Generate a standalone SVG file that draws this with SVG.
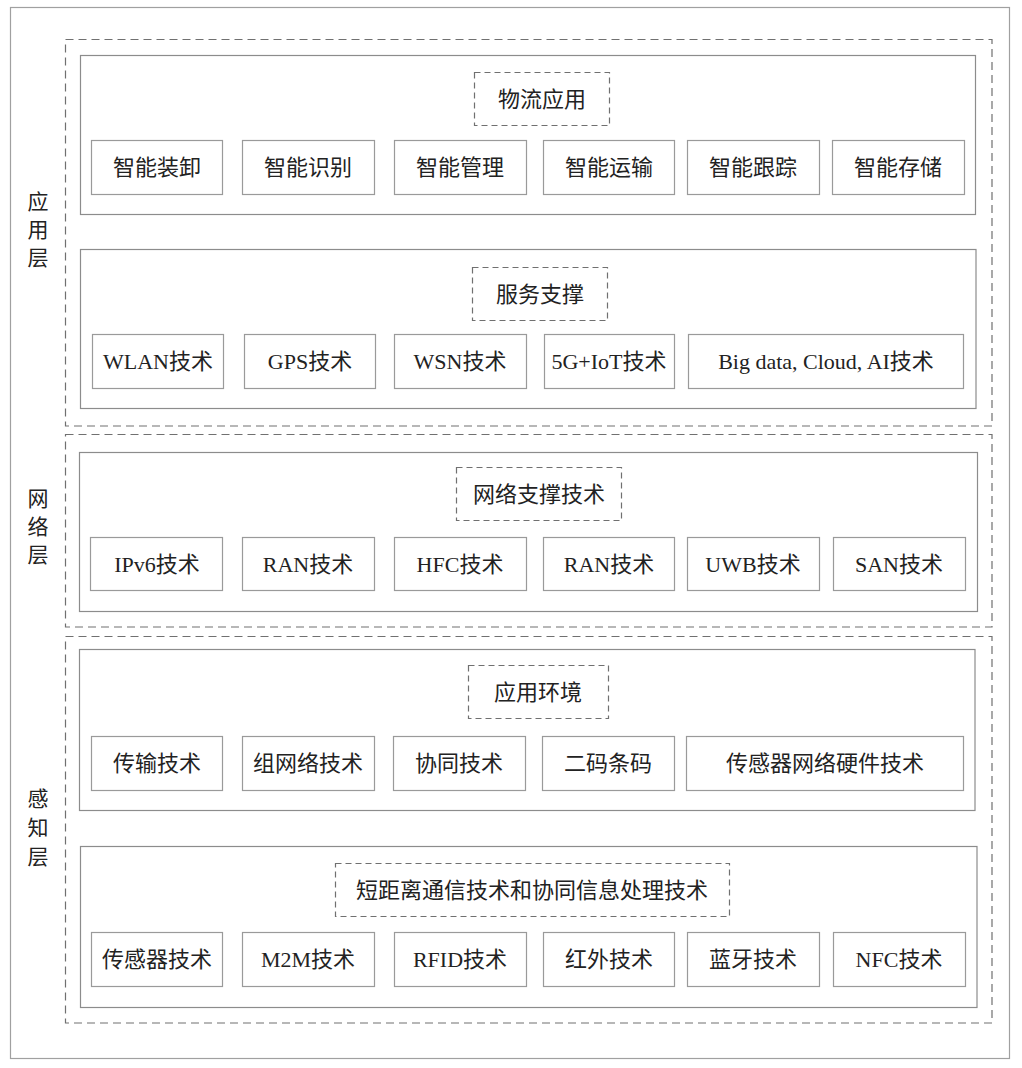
<svg xmlns="http://www.w3.org/2000/svg" width="1022" height="1068" viewBox="0 0 1022 1068">
<style>
.bg{fill:#fff}
.outer{fill:#fff;stroke:#a0a0a0;stroke-width:1.2}
.layer{fill:none;stroke:#707070;stroke-width:1.2;stroke-dasharray:8,5}
.panel{fill:#fff;stroke:#8c8c8c;stroke-width:1.2}
.box{fill:#fff;stroke:#9a9a9a;stroke-width:1.2}
.title{fill:#fff;stroke:#707070;stroke-width:1.2;stroke-dasharray:6,4}
.t{font-family:"Liberation Serif","Noto Sans CJK SC",serif;font-size:22px;fill:#222;text-anchor:middle;dominant-baseline:central}
.s{font-family:"Noto Sans CJK SC",sans-serif;font-size:21px;fill:#222;text-anchor:middle;dominant-baseline:central}
</style>
<rect class="bg" x="0" y="0" width="1022" height="1068"/>
<rect class="outer" x="10.5" y="7.5" width="999" height="1051"/>

<g id="layers">
<rect id="layer-app" class="layer" x="65.5" y="39.5" width="926.5" height="386.5"/>
<rect id="layer-net" class="layer" x="65.5" y="434.5" width="926.5" height="192.5"/>
<rect id="layer-sense" class="layer" x="65.5" y="636.5" width="926.5" height="386.5"/>
</g>

<g id="layer-labels">
<text class="s" x="38" y="200">应</text><text class="s" x="38" y="228">用</text><text class="s" x="38" y="256">层</text>
<text class="s" x="38" y="497">网</text><text class="s" x="38" y="525">络</text><text class="s" x="38" y="553">层</text>
<text class="s" x="38" y="797">感</text><text class="s" x="38" y="826">知</text><text class="s" x="38" y="855">层</text>
</g>

<g id="panel-logistics">
<rect class="panel" x="80.5" y="55.5" width="895" height="159"/>
<rect class="title" x="474.5" y="72.5" width="135" height="53"/>
<text class="t" x="542" y="99">物流应用</text>
<g id="n-zhuangxie"><rect class="box" x="91.5" y="140.5" width="131" height="54"/><text class="t" x="157" y="167">智能装卸</text></g>
<g id="n-shibie"><rect class="box" x="242.5" y="140.5" width="132" height="54"/><text class="t" x="308" y="167">智能识别</text></g>
<g id="n-guanli"><rect class="box" x="394.5" y="140.5" width="132" height="54"/><text class="t" x="460" y="167">智能管理</text></g>
<g id="n-yunshu"><rect class="box" x="543.5" y="140.5" width="131" height="54"/><text class="t" x="609" y="167">智能运输</text></g>
<g id="n-genzong"><rect class="box" x="687.5" y="140.5" width="132" height="54"/><text class="t" x="753" y="167">智能跟踪</text></g>
<g id="n-cunchu"><rect class="box" x="832.5" y="140.5" width="132" height="54"/><text class="t" x="898" y="167">智能存储</text></g>
</g>

<g id="panel-service">
<rect class="panel" x="80.5" y="249.5" width="895.5" height="159"/>
<rect class="title" x="472.5" y="267.5" width="135" height="53"/>
<text class="t" x="540" y="294">服务支撑</text>
<g id="n-wlan"><rect class="box" x="92.5" y="334.5" width="131" height="54"/><text class="t" x="158" y="361">WLAN技术</text></g>
<g id="n-gps"><rect class="box" x="244.5" y="334.5" width="131" height="54"/><text class="t" x="310" y="361">GPS技术</text></g>
<g id="n-wsn"><rect class="box" x="394.5" y="334.5" width="132" height="54"/><text class="t" x="460" y="361">WSN技术</text></g>
<g id="n-5g"><rect class="box" x="544.5" y="334.5" width="130" height="54"/><text class="t" x="609" y="361">5G+IoT技术</text></g>
<g id="n-bigdata"><rect class="box" x="688.5" y="334.5" width="275" height="54"/><text class="t" x="826" y="361">Big data, Cloud, AI技术</text></g>
</g>

<g id="panel-network">
<rect class="panel" x="79.5" y="452.5" width="898" height="159"/>
<rect class="title" x="456.5" y="467.5" width="165" height="53"/>
<text class="t" x="539" y="494">网络支撑技术</text>
<g id="n-ipv6"><rect class="box" x="90.5" y="537.5" width="132" height="53"/><text class="t" x="157" y="564">IPv6技术</text></g>
<g id="n-ran1"><rect class="box" x="242.5" y="537.5" width="132" height="53"/><text class="t" x="308" y="564">RAN技术</text></g>
<g id="n-hfc"><rect class="box" x="394.5" y="537.5" width="132" height="53"/><text class="t" x="460" y="564">HFC技术</text></g>
<g id="n-ran2"><rect class="box" x="543.5" y="537.5" width="131" height="53"/><text class="t" x="609" y="564">RAN技术</text></g>
<g id="n-uwb"><rect class="box" x="687.5" y="537.5" width="132" height="53"/><text class="t" x="753" y="564">UWB技术</text></g>
<g id="n-san"><rect class="box" x="833.5" y="537.5" width="132" height="53"/><text class="t" x="899" y="564">SAN技术</text></g>
</g>

<g id="panel-env">
<rect class="panel" x="79.5" y="649.5" width="895.5" height="161"/>
<rect class="title" x="468.5" y="665.5" width="140" height="53"/>
<text class="t" x="538" y="692">应用环境</text>
<g id="n-chuanshu"><rect class="box" x="91.5" y="736.5" width="131" height="54"/><text class="t" x="157" y="763">传输技术</text></g>
<g id="n-zuwang"><rect class="box" x="242.5" y="736.5" width="132" height="54"/><text class="t" x="308" y="763">组网络技术</text></g>
<g id="n-xietong"><rect class="box" x="393.5" y="736.5" width="132" height="54"/><text class="t" x="459" y="763">协同技术</text></g>
<g id="n-tiaoma"><rect class="box" x="542.5" y="736.5" width="132" height="54"/><text class="t" x="608" y="763">二码条码</text></g>
<g id="n-yingjian"><rect class="box" x="686.5" y="736.5" width="277" height="54"/><text class="t" x="825" y="763">传感器网络硬件技术</text></g>
</g>

<g id="panel-short">
<rect class="panel" x="80.5" y="846.5" width="896.5" height="161"/>
<rect class="title" x="335.5" y="863.5" width="394" height="53"/>
<text class="t" x="532" y="890">短距离通信技术和协同信息处理技术</text>
<g id="n-sensor"><rect class="box" x="91.5" y="932.5" width="131" height="54"/><text class="t" x="157" y="959">传感器技术</text></g>
<g id="n-m2m"><rect class="box" x="242.5" y="932.5" width="132" height="54"/><text class="t" x="308" y="959">M2M技术</text></g>
<g id="n-rfid"><rect class="box" x="394.5" y="932.5" width="132" height="54"/><text class="t" x="460" y="959">RFID技术</text></g>
<g id="n-hongwai"><rect class="box" x="543.5" y="932.5" width="131" height="54"/><text class="t" x="609" y="959">红外技术</text></g>
<g id="n-lanya"><rect class="box" x="687.5" y="932.5" width="132" height="54"/><text class="t" x="753" y="959">蓝牙技术</text></g>
<g id="n-nfc"><rect class="box" x="833.5" y="932.5" width="132" height="54"/><text class="t" x="899" y="959">NFC技术</text></g>
</g>

<g id="connectors"></g>
</svg>
